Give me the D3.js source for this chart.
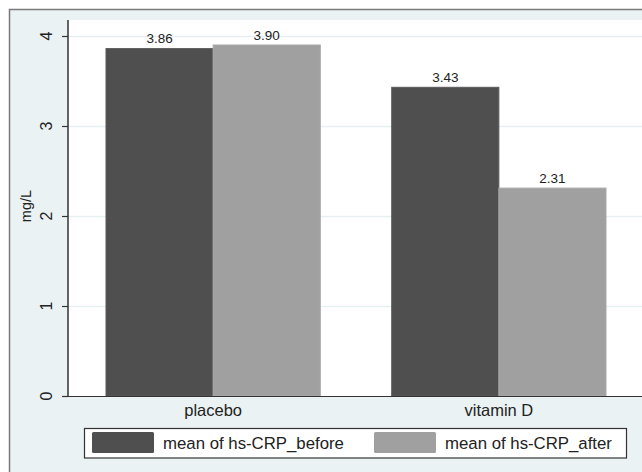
<!DOCTYPE html>
<html>
<head>
<meta charset="utf-8">
<script src="https://cdn.jsdelivr.net/npm/d3@7"></script>
<style>
  html, body { margin: 0; padding: 0; background: #ffffff; }
  svg { display: block; font-family: "Liberation Sans", Arial, sans-serif; }
</style>
</head>
<body>
<svg id="chart" width="642" height="472"></svg>
<script>
// ---- data ----
const categories = ["placebo", "vitamin D"];
const seriesNames = ["mean of hs-CRP_before", "mean of hs-CRP_after"];
const beforeValues = [3.86, 3.43];
const afterValues = [3.90, 2.31];
const valueLabels = [["3.86", "3.90"], ["3.43", "2.31"]];
const yTicks = [0, 1, 2, 3, 4];
const yTitle = "mg/L";

const colors = ["#4f4f4f", "#a0a0a0"];

const svg = d3.select("#chart");

// outer graph region
svg.append("rect").attr("x", 9.5).attr("y", 9.5).attr("width", 700).attr("height", 500)
  .attr("fill", "#eaf2f3").attr("stroke", "#7a7a7a").attr("stroke-width", 1.5);

const plot = { left: 68, right: 644, top: 20, bottom: 396 };

svg.append("rect").attr("x", plot.left).attr("y", plot.top)
  .attr("width", plot.right - plot.left).attr("height", plot.bottom - plot.top)
  .attr("fill", "#ffffff");

const y = d3.scaleLinear().domain([0, 4]).range([plot.bottom, 36]);
const x0 = d3.scaleBand().domain(categories).range([plot.left, plot.right])
  .paddingInner(0.25).paddingOuter(0.133);
const x1 = d3.scaleBand().domain(seriesNames).range([0, x0.bandwidth()]).padding(0);

// grid lines
svg.append("g").selectAll("line").data(yTicks.filter(d => d > 0)).join("line")
  .attr("x1", plot.left).attr("x2", plot.right)
  .attr("y1", d => Math.round(y(d)) + 0.5).attr("y2", d => Math.round(y(d)) + 0.5)
  .attr("stroke", "#e6f0f1").attr("stroke-width", 1.5);

// bars
const rows = categories.map((c, i) => ({ cat: c, vals: [beforeValues[i], afterValues[i]], labels: valueLabels[i] }));
const groups = svg.append("g").selectAll("g").data(rows).join("g")
  .attr("transform", d => `translate(${x0(d.cat)},0)`);

groups.selectAll("rect").data(d => d.vals.map((v, j) => ({ v, s: seriesNames[j], j }))).join("rect")
  .attr("x", d => x1(d.s))
  .attr("y", d => y(d.v))
  .attr("width", x1.bandwidth())
  .attr("height", d => y(0) - y(d.v))
  .attr("fill", d => colors[d.j])
  .attr("stroke", d => d.j === 0 ? "#5a5a5a" : "#a8a8a8")
  .attr("stroke-width", 1);

groups.selectAll("text").data(d => d.vals.map((v, j) => ({ v, s: seriesNames[j], lab: d.labels[j] }))).join("text")
  .attr("x", d => x1(d.s) + x1.bandwidth() / 2)
  .attr("y", d => y(d.v) - 5.5)
  .attr("text-anchor", "middle")
  .attr("font-size", "13.5px")
  .attr("fill", "#222")
  .text(d => d.lab);

// x axis line
svg.append("line").attr("x1", plot.left).attr("x2", plot.right)
  .attr("y1", plot.bottom + 0.5).attr("y2", plot.bottom + 0.5)
  .attr("stroke", "#333").attr("stroke-width", 1.2);

// y axis
const yAxis = svg.append("g").attr("transform", `translate(${plot.left},0)`);
yAxis.append("line").attr("x1", 0).attr("x2", 0).attr("y1", plot.top).attr("y2", plot.bottom + 1)
  .attr("stroke", "#333").attr("stroke-width", 1.5);
yAxis.selectAll("line.tick").data(yTicks).join("line").attr("class", "tick")
  .attr("x1", -6).attr("x2", 0)
  .attr("y1", d => Math.round(y(d)) + 0.5).attr("y2", d => Math.round(y(d)) + 0.5)
  .attr("stroke", "#333").attr("stroke-width", 1.2);
yAxis.selectAll("text").data(yTicks).join("text")
  .attr("transform", d => `translate(-16,${y(d)}) rotate(-90)`)
  .attr("text-anchor", "middle")
  .attr("font-size", "16px")
  .attr("fill", "#222")
  .text(d => d3.format("d")(d));

// y title
svg.append("text").attr("transform", `translate(31,${(plot.top + plot.bottom) / 2 - 2}) rotate(-90)`)
  .attr("text-anchor", "middle").attr("font-size", "14.5px").attr("fill", "#222")
  .text(yTitle);

// category labels
svg.append("g").selectAll("text").data(categories).join("text")
  .attr("x", d => x0(d) + x0.bandwidth() / 2)
  .attr("y", 416)
  .attr("text-anchor", "middle")
  .attr("font-size", "16.5px")
  .attr("fill", "#222")
  .text(d => d);

// legend
const legend = svg.append("g");
legend.append("rect").attr("x", 84.5).attr("y", 428.5).attr("width", 542).attr("height", 29.5)
  .attr("fill", "#ffffff").attr("stroke", "#333").attr("stroke-width", 1.2);
const legX = [92, 374];
const items = legend.selectAll("g").data(seriesNames).join("g")
  .attr("transform", (d, i) => `translate(${legX[i]},0)`);
items.append("rect").attr("x", 0).attr("y", 432).attr("width", 62).attr("height", 21)
  .attr("rx", 1.5)
  .attr("fill", (d, i) => colors[i]);
items.append("text").attr("x", 71).attr("y", 449)
  .attr("font-size", "16.8px").attr("fill", "#222")
  .text(d => d);
</script>
</body>
</html>
